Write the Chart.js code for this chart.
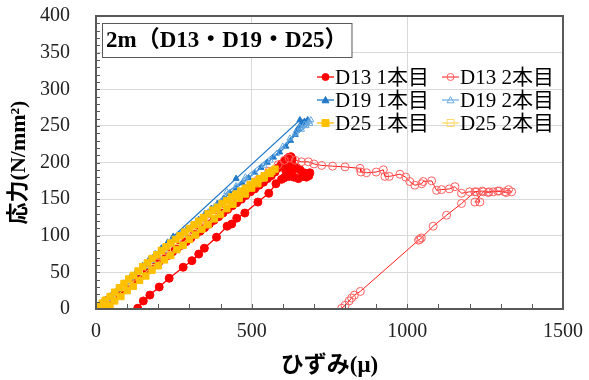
<!DOCTYPE html>
<html>
<head>
<meta charset="utf-8">
<script src="https://cdn.jsdelivr.net/npm/chart.js@4.4.0/dist/chart.umd.min.js"></script>
<style>
  body { margin: 0; background: #fff; }
  #wrap { width: 589px; height: 380px; }
</style>
</head>
<body>
<div id="wrap"><canvas id="stressChart" width="589" height="380"></canvas></div>
<script>
// strain (μ) / stress (N/mm2)
const strainD13a = [0, 12, 25, 38, 50, 63, 76, 90, 104, 118, 131, 145, 160, 174, 188, 202, 217, 231, 246, 260, 275, 290, 305, 320, 334, 349, 364, 379, 394, 408, 423, 438, 452, 467, 481, 496, 510, 524, 538, 551, 563, 575, 586, 596, 606, 614, 620, 626, 630, 628, 622, 615, 610, 618, 632, 645, 655, 668, 680, 687, 684, 676, 664, 650, 636, 620, 604, 596, 578, 555, 520, 478, 452, 436, 421, 387, 348, 330, 308, 280, 235, 203, 173, 152, 134];
const stressD13a = [0, 3, 8, 12, 16, 20, 24, 28, 33, 37, 41, 46, 51, 55, 60, 64, 69, 73, 78, 83, 87, 92, 97, 102, 106, 111, 116, 121, 126, 131, 136, 141, 145, 150, 155, 160, 164, 169, 173, 178, 182, 187, 193, 198, 202, 205, 207, 208, 205, 200, 196, 192, 188, 185, 190, 193, 190, 186, 184, 186, 182, 180, 181, 178, 180, 181, 179, 177, 171, 158, 146, 131, 124, 116, 113, 98, 83, 75, 66, 57, 42, 30, 19, 11, 1];

const strainD13b = [0, 30, 60, 95, 130, 165, 200, 240, 280, 320, 360, 400, 440, 480, 520, 555, 585, 605, 620, 640, 660, 682, 700, 725, 760, 800, 848, 851, 869, 900, 923, 928, 942, 976, 995, 1008, 1024, 1046, 1051, 1078, 1094, 1110, 1135, 1153, 1174, 1200, 1222, 1233, 1217, 1244, 1260, 1276, 1295, 1313, 1325, 1335, 1318, 1290, 1262, 1240, 1217, 1174, 1126, 1083, 1045, 1040, 1036, 849, 830, 821, 813, 800, 789];
const stressD13b = [0, 11, 21, 33, 45, 57, 69, 82, 96, 110, 124, 137, 150, 163, 176, 188, 197, 203, 206, 203, 201, 201, 198, 196, 195, 194, 192, 187, 186, 187, 190, 181, 181, 184, 180, 174, 169, 171, 174, 175, 162, 163, 164, 167, 158, 160, 160, 146, 146, 160, 159, 160, 161, 160, 163, 160, 159, 161, 160, 161, 160, 144, 128, 113, 97, 95, 94, 24, 19, 15, 11, 5, 1];

const strainD19a = [0, 15, 30, 50, 70, 90, 110, 130, 150, 170, 190, 210, 230, 250, 270, 290, 310, 330, 350, 370, 390, 410, 430, 450, 470, 490, 510, 530, 550, 570, 590, 610, 625, 640, 650, 660, 645, 670, 655, 680, 665, 655, 450, 248, 230, 210, 190, 170, 150, 130, 110, 90, 70, 50, 30, 15, 5];
const stressD19a = [0, 6, 12, 19, 27, 34, 42, 49, 57, 64, 72, 79, 87, 94, 101, 108, 115, 122, 130, 137, 144, 151, 158, 165, 172, 179, 186, 193, 200, 207, 214, 222, 230, 238, 246, 252, 244, 256, 250, 258, 254, 258, 178, 99, 91, 83, 75, 67, 59, 51, 43, 35, 27, 19, 11, 5, 0];

const strainD19b = [0, 20, 40, 60, 80, 100, 120, 140, 160, 180, 200, 220, 240, 260, 280, 300, 320, 340, 360, 380, 400, 420, 450, 480, 510, 540, 560, 580, 600, 623, 640, 655, 670, 685, 690, 675, 660, 687, 480, 280, 260, 240, 220, 200, 180, 160, 140, 120, 100, 80, 60, 40, 20, 8];
const stressD19b = [0, 7, 14, 22, 29, 36, 44, 51, 58, 66, 73, 80, 88, 95, 102, 110, 117, 124, 132, 139, 146, 160, 168, 176, 186, 196, 203, 212, 222, 233, 240, 248, 252, 256, 258, 250, 245, 253, 180, 105, 98, 90, 83, 75, 67, 60, 52, 45, 37, 30, 22, 14, 6, 0];

const strainD25a = [0, 10, 20, 30, 45, 60, 75, 90, 105, 120, 135, 150, 165, 180, 195, 210, 225, 240, 255, 270, 285, 300, 315, 330, 345, 360, 375, 390, 405, 420, 435, 450, 465, 480, 495, 510, 525, 540, 555, 565, 575, 560, 540, 520, 500, 480, 460, 440, 420, 400, 380, 360, 340, 320, 300, 280, 260, 240, 220, 200, 180, 160, 140, 120, 100, 80, 60, 45, 30];
const stressD25a = [0, 4, 8, 12, 17, 23, 29, 35, 41, 46, 52, 58, 63, 69, 74, 80, 85, 90, 95, 100, 105, 110, 115, 120, 125, 130, 135, 139, 144, 148, 153, 157, 161, 165, 170, 174, 178, 182, 186, 188, 191, 185, 179, 171, 165, 157, 151, 143, 137, 129, 123, 115, 109, 101, 95, 87, 81, 73, 67, 59, 53, 45, 39, 31, 25, 17, 11, 5, 0];

const strainD25b = [0, 25, 50, 80, 110, 140, 170, 200, 230, 260, 290, 320, 350, 380, 410, 440, 470, 500, 530, 555, 540, 500, 460, 420, 380, 340, 300, 260, 220, 180, 140, 100, 60, 25];
const stressD25b = [0, 9, 18, 29, 40, 51, 61, 72, 82, 92, 102, 112, 122, 132, 141, 151, 160, 169, 178, 185, 179, 166, 152, 139, 125, 112, 98, 84, 71, 57, 44, 30, 16, 3];

const seriesNames = ['D13 1本目', 'D13 2本目', 'D19 1本目', 'D19 2本目', 'D25 1本目', 'D25 2本目'];
const chartTitle = '2m（D13・D19・D25）';
const xTicks = [0, 500, 1000, 1500];

const SERIF = "'Liberation Serif', 'Noto Sans CJK JP', serif";

function pts(xs, ys) {
    return xs.map((x, i) => ({ x: x, y: ys[i] }));
}

function filled(label, xs, ys, color, style, r, order) {
    return {
        label: label, data: pts(xs, ys), showLine: true, order: order,
        borderColor: color, borderWidth: 1.3,
        pointStyle: style, pointRadius: r,
        pointBackgroundColor: color, pointBorderColor: color, pointBorderWidth: 1
    };
}

function hollow(label, xs, ys, lineColor, markColor, style, r, order) {
    return {
        label: label, data: pts(xs, ys), showLine: true, order: order,
        borderColor: lineColor, borderWidth: 1,
        pointStyle: style, pointRadius: r,
        pointBackgroundColor: 'rgba(0,0,0,0)', pointBorderColor: markColor, pointBorderWidth: 1
    };
}

const RED = '#FF0000', BLUE = '#1F78C8', YEL = '#FFC000';

const datasets = [
    filled(seriesNames[0], strainD13a, stressD13a, RED, 'circle', 4, 6),
    hollow(seriesNames[1], strainD13b, stressD13b, '#FF1A1A', '#FF6060', 'circle', 4, 5),
    filled(seriesNames[2], strainD19a, stressD19a, BLUE, 'triangle', 3.5, 4),
    hollow(seriesNames[3], strainD19b, stressD19b, '#4A97DA', '#6AAAE2', 'triangle', 3.5, 3),
    filled(seriesNames[4], strainD25a, stressD25a, YEL, 'rect', 4.5, 1),
    hollow(seriesNames[5], strainD25b, stressD25b, '#FFCC33', '#FFD966', 'rect', 4, 2)
];

// inside minor ticks, frame, title box and legend
const decorations = {
    id: 'decorations',
    afterDraw(chart) {
        const ctx = chart.ctx;
        const a = chart.chartArea;
        const xs = chart.scales.x, ys = chart.scales.y;
        ctx.save();

        // minor ticks
        ctx.strokeStyle = '#595959';
        ctx.lineWidth = 1;
        ctx.beginPath();
        for (let v = 10; v < 400; v += 10) {
            const y = Math.round(ys.getPixelForValue(v)) + 0.5;
            ctx.moveTo(a.left, y);
            ctx.lineTo(a.left + 4, y);
        }
        for (let v = 100; v < 1500; v += 100) {
            const x = Math.round(xs.getPixelForValue(v)) + 0.5;
            ctx.moveTo(x, a.bottom);
            ctx.lineTo(x, a.bottom - 5);
        }
        ctx.stroke();

        // plot frame
        ctx.strokeStyle = '#595959';
        ctx.lineWidth = 2;
        ctx.strokeRect(a.left, a.top, a.right - a.left, a.bottom - a.top);

        // title box
        ctx.font = 'bold 23px ' + SERIF;
        const tw = ctx.measureText(chartTitle).width;
        const bx = 102, by = 23, bh = 34;
        ctx.fillStyle = '#fff';
        ctx.fillRect(bx, by, tw + 8, bh);
        ctx.strokeStyle = '#595959';
        ctx.lineWidth = 1;
        ctx.strokeRect(bx + 0.5, by + 0.5, tw + 8, bh);
        ctx.fillStyle = '#000';
        ctx.textBaseline = 'middle';
        ctx.textAlign = 'left';
        ctx.fillText(chartTitle, bx + 4, by + bh / 2 + 1);

        // legend, 2 columns x 3 rows
        const colX = [317, 442];
        const rowY = [77, 100, 123];
        ctx.font = '21px ' + SERIF;
        chart.data.datasets.forEach((ds, i) => {
            const x0 = colX[i % 2];
            const y0 = rowY[Math.floor(i / 2)];
            ctx.strokeStyle = ds.borderColor;
            ctx.lineWidth = ds.borderWidth;
            ctx.beginPath();
            ctx.moveTo(x0, y0);
            ctx.lineTo(x0 + 17, y0);
            ctx.stroke();
            drawMark(ctx, ds, x0 + 8.5, y0);
            ctx.fillStyle = '#000';
            ctx.fillText(ds.label, x0 + 18, y0 + 1);
        });
        ctx.restore();
    }
};

function drawMark(ctx, ds, x, y) {
    const r = 3.5;
    ctx.beginPath();
    if (ds.pointStyle === 'circle') {
        ctx.arc(x, y, r, 0, Math.PI * 2);
    } else if (ds.pointStyle === 'triangle') {
        ctx.moveTo(x, y - r);
        ctx.lineTo(x + r, y + r * 0.8);
        ctx.lineTo(x - r, y + r * 0.8);
        ctx.closePath();
    } else {
        ctx.rect(x - r, y - r, r * 2, r * 2);
    }
    ctx.fillStyle = ds.pointBackgroundColor;
    ctx.fill();
    ctx.strokeStyle = ds.pointBorderColor;
    ctx.lineWidth = 1;
    ctx.stroke();
}

new Chart(document.getElementById('stressChart'), {
    type: 'scatter',
    data: { datasets: datasets },
    options: {
        responsive: false,
        animation: false,
        devicePixelRatio: 1,
        layout: { padding: { top: 16, right: 26, bottom: 0, left: 0 } },
        plugins: { legend: { display: false }, tooltip: { enabled: false } },
        scales: {
            x: {
                type: 'linear', min: 0, max: 1500,
                afterBuildTicks: s => { s.ticks = xTicks.map(v => ({ value: v })); },
                afterFit: s => { s.height = 71; s.paddingLeft = 0; s.paddingRight = 0; },
                ticks: { padding: 11, color: '#222', font: { family: SERIF, size: 20 }, callback: v => String(v) },
                grid: {
                    drawTicks: false,
                    color: c => (c.tick.value > 0 && c.tick.value < 1500) ? '#d9d9d9' : 'rgba(0,0,0,0)'
                },
                border: { display: false },
                title: {
                    display: true, text: 'ひずみ(μ)', color: '#000',
                    font: { family: SERIF, size: 23, weight: 'bold' },
                    padding: { top: 0, bottom: 0 }
                }
            },
            y: {
                type: 'linear', min: 0, max: 400,
                afterFit: s => { s.width = 96; s.paddingTop = 0; s.paddingBottom = 0; },
                ticks: { stepSize: 50, padding: 26, color: '#222', font: { family: SERIF, size: 20 }, callback: v => String(v) },
                grid: {
                    drawTicks: false,
                    color: c => (c.tick.value > 0 && c.tick.value < 400) ? '#d9d9d9' : 'rgba(0,0,0,0)'
                },
                border: { display: false },
                title: {
                    display: true, text: '応力(N/mm²)', color: '#000',
                    font: { family: SERIF, size: 22, weight: 'bold' },
                    padding: { top: 6, bottom: 0 }
                }
            }
        }
    },
    plugins: [decorations]
});
</script>
</body>
</html>
